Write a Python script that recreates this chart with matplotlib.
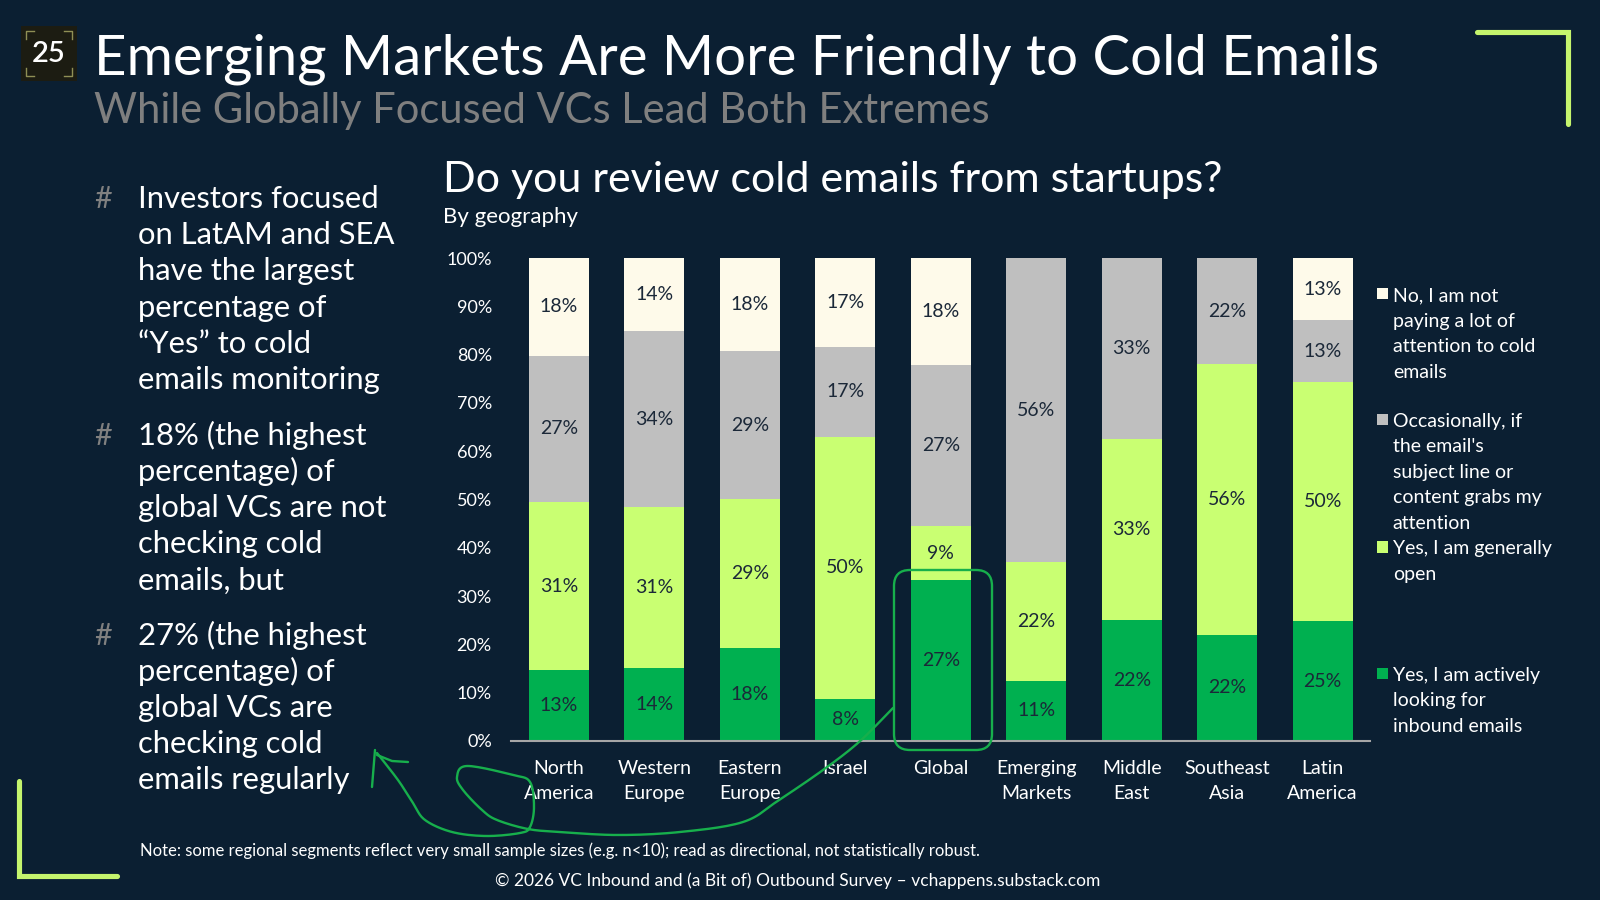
import numpy as np
import matplotlib
matplotlib.use("Agg")
import matplotlib.pyplot as plt
from matplotlib.patches import Rectangle, FancyBboxPatch

plt.rcParams['font.family'] = ['Lato', 'DejaVu Sans']

# ---------------- data ----------------
categories = ["North\nAmerica", "Western\nEurope", "Eastern\nEurope", "Israel", "Global",
              "Emerging\nMarkets", "Middle\nEast", "Southeast\nAsia", "Latin\nAmerica"]
active = [13, 14, 18, 8, 27, 11, 22, 22, 25]        # Yes, I am actively looking
open_ = [31, 31, 29, 50, 9, 22, 33, 56, 50]          # Yes, I am generally open
occasional = [27, 34, 29, 17, 27, 56, 33, 22, 13]    # Occasionally
no = [18, 14, 18, 17, 18, 0, 0, 0, 13]               # No
legend_labels = [
    "No, I am not\npaying a lot of\nattention to cold\nemails",
    "Occasionally, if\nthe email's\nsubject line or\ncontent grabs my\nattention",
    "Yes, I am generally\nopen",
    "Yes, I am actively\nlooking for\ninbound emails",
]
y_ticks = list(range(0, 101, 10))

# ---------------- style ----------------
BG = "#0B1F32"
C_ACTIVE = "#00B050"
C_OPEN = "#C9FF72"
C_OCC = "#BFBFBF"
C_NO = "#FEFAEA"
LBL = "#1B2838"
BRACKET = "#C5F46D"
ANNOT = "#17AF4C"

K = 1600 / 1568.0  # reference-view px -> output px


def P(x, y):
    return x * K, y * K


fig = plt.figure(figsize=(16, 9), dpi=100, facecolor=BG)

# ---------------- chart ----------------
ax = fig.add_axes([501 / 1568, 1 - 726 / 882, (1343 - 501) / 1568, (726 - 253) / 882])
ax.set_facecolor(BG)
x = np.arange(len(categories))
totals = np.array(active) + np.array(open_) + np.array(occasional) + np.array(no)
bottom = np.zeros(len(categories))
for vals, col in [(active, C_ACTIVE), (open_, C_OPEN), (occasional, C_OCC), (no, C_NO)]:
    vals = np.array(vals, float)
    h = vals / totals * 100
    ax.bar(x, h, 0.63, bottom=bottom, color=col, linewidth=0, zorder=2)
    for xi, b, hh, v in zip(x, bottom, h, vals):
        if v > 0:
            ax.text(xi, b + hh / 2, f"{int(v)}%", ha="center", va="center",
                    fontsize=14, color=LBL, zorder=3)
    bottom = bottom + h

ax.set_xlim(-0.5, len(categories) - 0.5)
ax.set_ylim(0, 100)
ax.set_yticks(y_ticks)
ax.set_yticklabels([f"{v}%" for v in y_ticks])
ax.set_xticks(x)
ax.set_xticklabels(categories)
for t in ax.get_xticklabels():
    t.set_linespacing(1.55)
ax.tick_params(axis="y", length=0, colors="white", labelsize=13, pad=14)
ax.tick_params(axis="x", length=0, colors="white", labelsize=14, pad=14)
for s in ["top", "left", "right"]:
    ax.spines[s].set_visible(False)
ax.spines["bottom"].set_color("#A6A6A6")
ax.spines["bottom"].set_linewidth(1.5)
ax.spines["bottom"].set_zorder(4)

# ---------------- overlay (pixel coords) ----------------
ov = fig.add_axes([0, 0, 1, 1], zorder=10)
ov.set_xlim(0, 1600)
ov.set_ylim(900, 0)
ov.axis("off")
ov.patch.set_alpha(0)

# badge
bx, by = P(21, 25)
bw, bh = 54 * K, 54 * K
ov.add_patch(Rectangle((bx, by), bw, bh, facecolor="#1C1C12", edgecolor="none"))
ins, ln = 5, 8
for cx, cy, dx, dy in [(bx + ins, by + ins, 1, 1), (bx + bw - ins, by + ins, -1, 1),
                       (bx + ins, by + bh - ins, 1, -1), (bx + bw - ins, by + bh - ins, -1, -1)]:
    ov.plot([cx, cx, cx + dx * ln], [cy + dy * ln, cy, cy], color="#8F8F55", lw=1)
ov.text(bx + bw / 2, by + bh / 2 + 1, "25", ha="center", va="center", fontsize=21,
        color="white", fontweight="semibold")

# brackets
xs, ys = zip(*[P(1447, 31), P(1537, 31), P(1537, 122)])
ov.plot(xs, ys, color=BRACKET, lw=3.7, solid_capstyle="round", solid_joinstyle="miter")
xs, ys = zip(*[P(19, 765), P(19, 858), P(115, 858)])
ov.plot(xs, ys, color=BRACKET, lw=3.7, solid_capstyle="round", solid_joinstyle="miter")

# titles
ov.text(*P(92, 73), "Emerging Markets Are More Friendly to Cold Emails", fontsize=40.6,
        color="white", va="baseline", ha="left")
ov.text(*P(92, 121), "While Globally Focused VCs Lead Both Extremes", fontsize=30,
        color="#7F7F7F", va="baseline", ha="left")
ov.text(*P(434, 188), "Do you review cold emails from startups?", fontsize=31,
        color="white", va="baseline", ha="left")
ov.text(*P(434, 219), "By geography", fontsize=16, color="white", va="baseline", ha="left")

# left bullets
bullets = [
    (204, ["Investors focused", "on LatAM and SEA", "have the largest", "percentage of",
           "\u201cYes\u201d to cold", "emails monitoring"]),
    (436, ["18% (the highest", "percentage) of", "global VCs are not", "checking cold",
           "emails, but"]),
    (632, ["27% (the highest", "percentage) of", "global VCs are", "checking cold",
           "emails regularly"]),
]
for y0, lines in bullets:
    ov.text(*P(92, y0), "#", fontsize=22, color="#808080", va="baseline", ha="left")
    for i, line in enumerate(lines):
        ov.text(*P(135, y0 + i * 35.4), line, fontsize=22.3, color="white",
                va="baseline", ha="left")

# legend
leg_y = [288, 411, 536, 660]
leg_cols = [C_NO, C_OCC, C_OPEN, C_ACTIVE]
for y0, lab, col in zip(leg_y, legend_labels, leg_cols):
    sx, sy = P(1349, y0 - 5.5)
    ov.add_patch(Rectangle((sx, sy), 11 * K, 11 * K, facecolor=col, edgecolor="none"))
    for i, line in enumerate(lab.split("\n")):
        ov.text(*P(1365, y0 + 7 + i * 25), line, fontsize=14, color="white",
                va="baseline", ha="left")

# notes
ov.text(*P(137, 839), "Note: some regional segments reflect very small sample sizes (e.g. n<10); "
        "read as directional, not statistically robust.", fontsize=12, color="white",
        va="baseline", ha="left")
ov.text(*P(782, 868), "\u00a9 2026 VC Inbound and (a Bit of) Outbound Survey \u2013 "
        "vchappens.substack.com", fontsize=12.5, color="white", va="baseline", ha="center")


# ---------------- hand-drawn annotation ----------------
def smooth(pts, n=14):
    pts = np.array(pts, float)
    Pp = np.vstack([pts[0], pts, pts[-1]])
    out = []
    for i in range(1, len(Pp) - 2):
        p0, p1, p2, p3 = Pp[i - 1], Pp[i], Pp[i + 1], Pp[i + 2]
        t = np.linspace(0, 1, n, endpoint=False)[:, None]
        out.append(0.5 * ((2 * p1) + (-p0 + p2) * t + (2 * p0 - 5 * p1 + 4 * p2 - p3) * t ** 2
                          + (-p0 + 3 * p1 - 3 * p2 + p3) * t ** 3))
    out.append(Pp[-2][None])
    return np.vstack(out)


ov.add_patch(FancyBboxPatch((894, 570), 98, 180, boxstyle="round,pad=0,rounding_size=16",
                            facecolor="none", edgecolor=ANNOT, lw=1.7))
curve = [(893, 708), (859, 742), (823, 770), (779, 800), (743, 822), (680, 832), (618, 835),
         (560, 832), (528, 829), (497, 820), (482, 810), (463, 790), (457, 777), (467, 766),
         (513, 775), (530, 782), (534, 807), (530, 827), (520, 833), (486, 836), (452, 832),
         (425, 820), (413, 803), (398, 780), (377, 753)]
c = smooth(curve)
ov.plot(c[:, 0], c[:, 1], color=ANNOT, lw=1.7, solid_capstyle="round")
ov.plot([375, 372], [750, 787], color=ANNOT, lw=1.7, solid_capstyle="round")
ov.plot([377, 392, 408], [755, 761, 762], color=ANNOT, lw=1.7, solid_capstyle="round")

fig.savefig("out.png", dpi=100, facecolor=BG)
